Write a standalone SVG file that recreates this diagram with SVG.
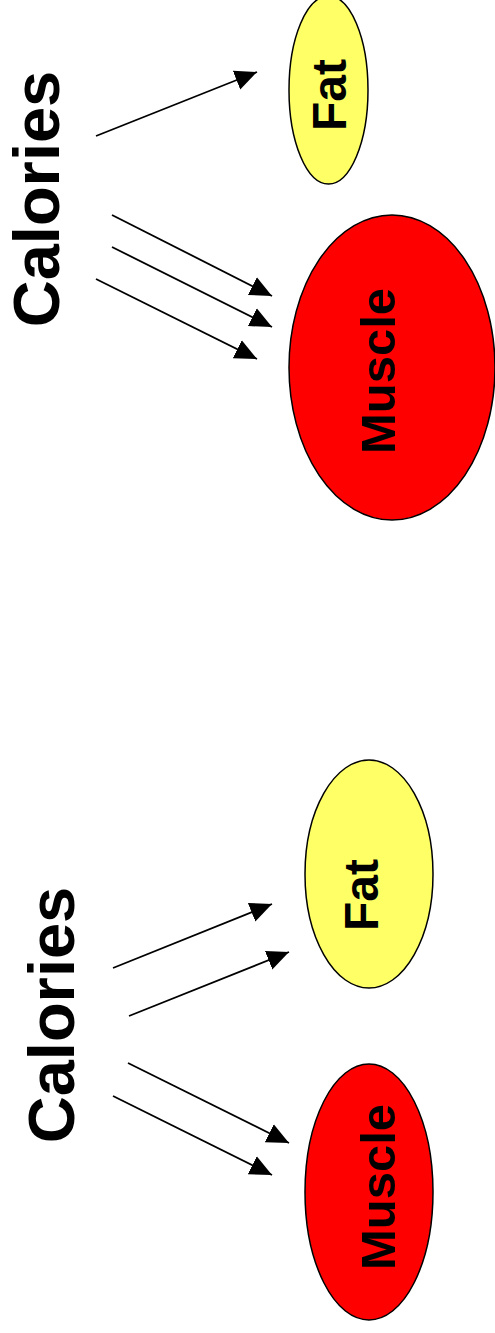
<svg xmlns="http://www.w3.org/2000/svg" width="495" height="1333" viewBox="0 0 495 1333">
<style>
.t{font-family:"Liberation Sans",Arial,sans-serif;font-weight:bold;fill:#000;text-anchor:middle}
.fat{fill:#ffff66;stroke:#000;stroke-width:1.5}
.mus{fill:#ff0000;stroke:#000;stroke-width:1.5}
.c line{stroke:#000;stroke-width:1.8;marker-end:url(#ah)}
</style>
<defs>
<marker id="ah" markerUnits="userSpaceOnUse" markerWidth="24" markerHeight="22" refX="22" refY="10" orient="auto" viewBox="0 0 24 20">
<path d="M0,0 L22,10 L0,20 Z" fill="#000"/>
</marker>
</defs>
<rect width="495" height="1333" fill="#fff"/>
<g id="calories-top"><text class="t" font-size="65" transform="translate(59,199) rotate(-90)">Calories</text></g>
<g id="fat-top"><ellipse class="fat" cx="328.5" cy="90" rx="39.5" ry="94"/><text class="t" font-size="48" transform="translate(346,95) rotate(-90)">Fat</text></g>
<g id="muscle-top"><ellipse class="mus" cx="392" cy="367.5" rx="103" ry="152.5"/><text class="t" font-size="49" transform="translate(395,371) rotate(-90)">Muscle</text></g>
<g id="calories-bottom"><text class="t" font-size="65" transform="translate(74,1015) rotate(-90)">Calories</text></g>
<g id="fat-bottom"><ellipse class="fat" cx="369" cy="874" rx="64" ry="114"/><text class="t" font-size="48" transform="translate(378,895) rotate(-90)">Fat</text></g>
<g id="muscle-bottom"><ellipse class="mus" cx="369" cy="1192" rx="64" ry="128"/><text class="t" font-size="49" transform="translate(395,1187) rotate(-90)">Muscle</text></g>
<g id="connectors" class="c">
<line x1="96" y1="136" x2="257" y2="72"/>
<line x1="112" y1="215" x2="272" y2="296"/>
<line x1="112" y1="247" x2="272" y2="327"/>
<line x1="96" y1="279" x2="257" y2="359"/>
<line x1="113" y1="968" x2="272" y2="904"/>
<line x1="129" y1="1016" x2="289" y2="952"/>
<line x1="128" y1="1063" x2="289" y2="1143"/>
<line x1="113" y1="1096" x2="272" y2="1175"/>
</g>
</svg>
